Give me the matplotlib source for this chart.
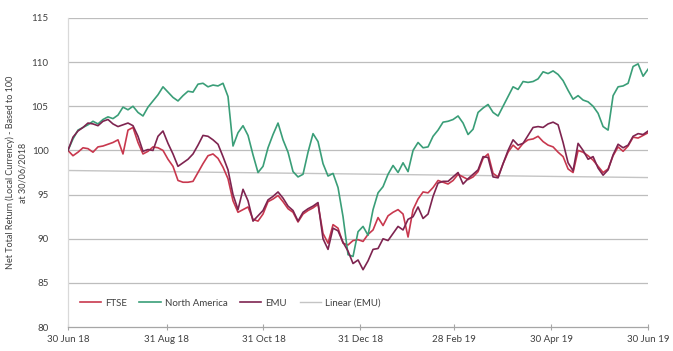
import numpy as np
import matplotlib
matplotlib.use("Agg")
import matplotlib.pyplot as plt
import matplotlib.dates as mdates
import datetime as dt

plt.rcParams['font.family'] = ['Lato', 'DejaVu Sans']

start = dt.date(2018, 6, 30)
end = dt.date(2019, 6, 30)

tick_dates = [dt.date(2018, 6, 30), dt.date(2018, 8, 31), dt.date(2018, 10, 31),
              dt.date(2018, 12, 31), dt.date(2019, 2, 28), dt.date(2019, 4, 30),
              dt.date(2019, 6, 30)]
tick_labels = ["30 Jun 18", "31 Aug 18", "31 Oct 18", "31 Dec 18",
               "28 Feb 19", "30 Apr 19", "30 Jun 19"]

# Net total return indices, rebased to 100 at 30/06/2018 (sampled roughly every 3 days)
north_america = [
    100.0, 101.3, 102.3, 102.6, 102.9, 103.3, 103.0, 103.5, 103.8, 103.6,
    104.0, 104.9, 104.6, 105.0, 104.3, 103.9, 104.9, 105.6, 106.3, 107.2,
    106.6, 106.0, 105.6, 106.2, 106.7, 106.6, 107.5, 107.6, 107.2, 107.4,
    107.3, 107.6, 106.1, 100.5, 102.0, 102.8, 101.7, 99.5, 97.5, 98.2,
    100.3, 101.8, 103.1, 101.2, 99.8, 97.6, 97.0, 97.3, 99.8, 101.9,
    101.0, 98.5, 97.1, 97.4, 95.8, 92.5, 88.2, 88.0, 90.8, 91.4,
    90.4, 93.3, 95.2, 95.9, 97.3, 98.3, 97.5, 98.6, 97.6, 100.0,
    100.9, 100.3, 100.4, 101.6, 102.3, 103.2, 103.3, 103.5, 103.9, 103.1,
    101.8, 102.4, 104.3, 104.8, 105.2, 104.3, 103.9, 105.0, 106.1, 107.2,
    106.9, 107.8, 107.7, 107.8, 108.1, 108.9, 108.7, 109.0, 108.6, 107.9,
    106.8, 105.8, 106.2, 105.7, 105.5, 105.0, 104.2, 102.7, 102.3, 106.2,
    107.2, 107.3, 107.6, 109.5, 109.8, 108.4, 109.2,
]

emu = [
    100.0, 101.5, 102.2, 102.6, 103.1, 103.0, 102.8, 103.3, 103.5, 103.0,
    102.7, 102.9, 103.1, 102.8, 101.6, 99.9, 100.1, 100.0, 101.6, 102.2,
    100.8, 99.6, 98.2, 98.6, 99.0, 99.6, 100.6, 101.7, 101.6, 101.2,
    100.7, 99.3, 97.8, 95.0, 93.3, 95.6, 94.3, 92.0, 92.6, 93.2,
    94.4, 94.8, 95.3, 94.6, 93.7, 93.2, 92.0, 93.0, 93.4, 93.7,
    94.1, 90.0, 88.8, 91.2, 90.9, 89.6, 88.6, 87.2, 87.6, 86.5,
    87.5, 88.8, 88.9, 90.0, 89.8, 90.6, 91.4, 91.0, 92.2, 92.5,
    93.6, 92.3, 92.8, 94.8, 96.3, 96.5, 96.5, 97.0, 97.5, 96.2,
    96.8, 97.3, 97.8, 99.3, 99.2, 97.0, 96.9, 98.5, 100.0, 101.2,
    100.6, 100.8, 101.7, 102.6, 102.7, 102.6, 103.0, 103.2, 102.9, 100.9,
    98.6, 97.7, 100.8, 100.0, 99.0, 99.3, 98.0, 97.2, 97.8, 99.5,
    100.7, 100.3, 100.6, 101.6, 101.9, 101.8, 102.2,
]

ftse = [
    100.0, 99.4, 99.8, 100.3, 100.2, 99.8, 100.4, 100.5, 100.7, 100.9,
    101.2, 99.6, 102.3, 102.6, 100.9, 99.6, 99.9, 100.4, 100.3, 100.0,
    99.0, 98.2, 96.6, 96.4, 96.4, 96.5, 97.5, 98.5, 99.4, 99.6,
    99.1, 98.1, 96.8, 94.3, 93.0, 93.3, 93.6, 92.2, 92.0, 92.8,
    94.2, 94.5, 94.9, 94.2, 93.4, 93.0, 91.9, 92.8, 93.2, 93.5,
    93.9, 90.6, 89.5, 91.6, 91.2, 89.5, 89.3, 89.8, 89.9, 89.7,
    90.5, 91.0, 92.4, 91.5, 92.6, 93.0, 93.3, 92.8, 90.2, 93.3,
    94.5, 95.3, 95.2, 95.8, 96.6, 96.4, 96.2, 96.6, 97.3, 97.0,
    96.7, 97.0, 97.6, 99.1, 99.6, 97.4, 97.0, 98.5, 99.8, 100.6,
    100.1, 100.8, 101.2, 101.3, 101.6, 101.0, 100.6, 100.4, 99.8, 99.3,
    97.9, 97.5, 100.0, 99.8, 99.4, 98.9, 98.2, 97.5, 97.9, 99.4,
    100.4, 99.9, 100.5, 101.5, 101.4, 101.7, 102.0,
]

colors = {"FTSE": "#C8384E", "North America": "#3A9E78",
          "EMU": "#7E2450", "Linear (EMU)": "#C4C4C4"}

t0, t1 = mdates.date2num(start), mdates.date2num(end)


def time_axis(values):
    return np.linspace(t0, t1, len(values))


fig = plt.figure(figsize=(6.73, 3.51), dpi=100)
ax = fig.add_axes([0.101, 0.068, 0.862, 0.881])

grid_color = "#BDBDBD"
for v in range(85, 116, 5):
    ax.axhline(v, color=grid_color, lw=0.9, zorder=0)

t_ftse = time_axis(ftse)
t_na = time_axis(north_america)
t_emu = time_axis(emu)

ax.plot(t_ftse, ftse, color=colors["FTSE"], lw=1.2, label="FTSE", zorder=3)
ax.plot(t_na, north_america, color=colors["North America"], lw=1.2,
        label="North America", zorder=3)
ax.plot(t_emu, emu, color=colors["EMU"], lw=1.2, label="EMU", zorder=4)

# least-squares trend of the EMU series
coef = np.polyfit(t_emu - t0, emu, 1)
ax.plot(t_emu, np.polyval(coef, t_emu - t0), color=colors["Linear (EMU)"],
        lw=1.0, label="Linear (EMU)", zorder=2)

ax.set_xlim(t0, t1)
ax.set_ylim(80, 115)
ax.set_yticks(range(80, 116, 5))
ax.set_xticks([mdates.date2num(d) for d in tick_dates])
ax.set_xticklabels(tick_labels)

for side in ("top", "right"):
    ax.spines[side].set_visible(False)
ax.spines["left"].set_color("#D9D9D9")
ax.spines["bottom"].set_color("#A6A6A6")
ax.spines["left"].set_linewidth(0.9)
ax.spines["bottom"].set_linewidth(0.9)

ax.tick_params(axis="y", length=0, labelsize=7, colors="#404040", pad=14)
ax.tick_params(axis="x", direction="inout", length=5, color="#A6A6A6",
               labelsize=7, labelcolor="#404040", pad=3)

ax.set_ylabel("Net Total Return (Local Currency) - Based to 100\nat 30/06/2018",
              fontsize=6.5, color="#404040", linespacing=1.5)
ax.yaxis.set_label_coords(-0.07, 0.5)

ax.legend(loc="lower left", bbox_to_anchor=(0.005, 0.035), ncol=4,
          frameon=False, fontsize=7, handlelength=2.2, handletextpad=0.4,
          columnspacing=1.3, labelcolor="#404040")

fig.savefig("out.png", dpi=100)
